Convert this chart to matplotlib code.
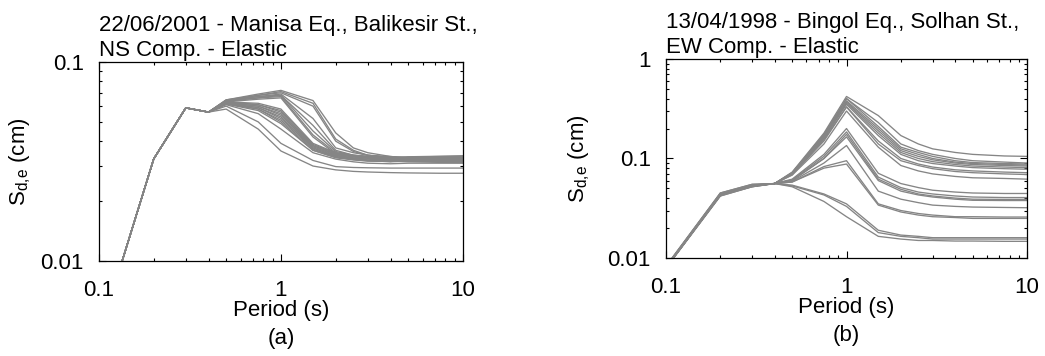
import matplotlib
matplotlib.use('Agg')
import matplotlib.pyplot as plt
from matplotlib.ticker import FixedLocator, FixedFormatter, LogLocator, NullFormatter

plt.rcParams['font.family'] = ['Liberation Sans', 'DejaVu Sans']
plt.rcParams['mathtext.default'] = 'regular'

# Periods (s)
periods = [0.1, 0.2, 0.3, 0.4, 0.5, 0.75, 1.0, 1.5, 2.0, 2.5, 3.0, 4.0, 5.0, 7.5, 10.0]

# (a) Manisa Eq., Balikesir St., NS - elastic displacement spectra (cm)
sd_a = [
    [0.0042, 0.0326, 0.0588, 0.056, 0.0645, 0.069, 0.072, 0.064, 0.044, 0.037, 0.035, 0.0335, 0.033, 0.0328, 0.0327],
    [0.0042, 0.0326, 0.0588, 0.056, 0.0645, 0.068, 0.071, 0.062, 0.041, 0.036, 0.034, 0.033, 0.0325, 0.0323, 0.0322],
    [0.0042, 0.0326, 0.0588, 0.056, 0.064, 0.068, 0.070, 0.060, 0.040, 0.0355, 0.034, 0.033, 0.0325, 0.032, 0.032],
    [0.0042, 0.0326, 0.0588, 0.056, 0.064, 0.067, 0.069, 0.052, 0.037, 0.035, 0.034, 0.0335, 0.033, 0.0332, 0.0333],
    [0.0042, 0.0326, 0.0588, 0.056, 0.064, 0.067, 0.068, 0.048, 0.036, 0.034, 0.0335, 0.033, 0.0333, 0.0335, 0.0336],
    [0.0042, 0.0326, 0.0588, 0.056, 0.0635, 0.066, 0.068, 0.045, 0.0355, 0.034, 0.0335, 0.0332, 0.033, 0.033, 0.033],
    [0.0042, 0.0326, 0.0588, 0.056, 0.0635, 0.066, 0.067, 0.043, 0.035, 0.0338, 0.033, 0.0325, 0.0322, 0.032, 0.032],
    [0.0042, 0.0326, 0.0588, 0.056, 0.063, 0.065, 0.066, 0.042, 0.0345, 0.0335, 0.033, 0.0322, 0.0318, 0.0316, 0.0315],
    [0.0042, 0.0326, 0.0588, 0.056, 0.063, 0.062, 0.058, 0.039, 0.035, 0.034, 0.0335, 0.033, 0.0334, 0.0336, 0.0338],
    [0.0042, 0.0326, 0.0588, 0.056, 0.063, 0.061, 0.057, 0.0385, 0.0348, 0.0338, 0.0333, 0.0328, 0.033, 0.0332, 0.0333],
    [0.0042, 0.0326, 0.0588, 0.056, 0.063, 0.061, 0.056, 0.038, 0.0345, 0.0335, 0.033, 0.0325, 0.0325, 0.0326, 0.0327],
    [0.0042, 0.0326, 0.0588, 0.056, 0.0625, 0.060, 0.055, 0.038, 0.0343, 0.0333, 0.0328, 0.0322, 0.032, 0.032, 0.032],
    [0.0042, 0.0326, 0.0588, 0.056, 0.0625, 0.060, 0.054, 0.0375, 0.034, 0.033, 0.0325, 0.032, 0.0318, 0.0316, 0.0315],
    [0.0042, 0.0326, 0.0588, 0.056, 0.062, 0.059, 0.053, 0.037, 0.0338, 0.0328, 0.0322, 0.0318, 0.0315, 0.0313, 0.0312],
    [0.0042, 0.0326, 0.0588, 0.056, 0.062, 0.059, 0.052, 0.037, 0.0335, 0.0325, 0.032, 0.0315, 0.0318, 0.032, 0.0322],
    [0.0042, 0.0326, 0.0588, 0.056, 0.062, 0.058, 0.051, 0.0365, 0.0333, 0.0323, 0.0318, 0.0316, 0.0322, 0.0327, 0.033],
    [0.0042, 0.0326, 0.0588, 0.056, 0.0615, 0.058, 0.050, 0.036, 0.033, 0.0322, 0.0318, 0.0318, 0.0325, 0.033, 0.0334],
    [0.0042, 0.0326, 0.0588, 0.056, 0.0615, 0.057, 0.049, 0.036, 0.0332, 0.0325, 0.032, 0.032, 0.0322, 0.0324, 0.0325],
    [0.0042, 0.0326, 0.0588, 0.056, 0.061, 0.055, 0.046, 0.035, 0.0325, 0.0315, 0.031, 0.0308, 0.031, 0.031, 0.031],
    [0.0042, 0.0326, 0.0588, 0.056, 0.060, 0.050, 0.039, 0.032, 0.0298, 0.0295, 0.0294, 0.0293, 0.0293, 0.0293, 0.0293],
    [0.0042, 0.0326, 0.0588, 0.056, 0.058, 0.046, 0.0357, 0.030, 0.0287, 0.0282, 0.028, 0.0278, 0.0277, 0.0276, 0.0276],
]

# (b) Bingol Eq., Solhan St., EW - elastic displacement spectra (cm)
sd_b = [
    [0.0083, 0.045, 0.055, 0.056, 0.073, 0.18, 0.42, 0.27, 0.17, 0.14, 0.125, 0.115, 0.11, 0.106, 0.105],
    [0.0082, 0.044, 0.054, 0.056, 0.072, 0.175, 0.40, 0.23, 0.14, 0.12, 0.11, 0.10, 0.095, 0.092, 0.09],
    [0.0081, 0.044, 0.054, 0.056, 0.072, 0.17, 0.40, 0.21, 0.13, 0.115, 0.105, 0.095, 0.091, 0.089, 0.088],
    [0.0082, 0.045, 0.055, 0.056, 0.071, 0.17, 0.38, 0.20, 0.125, 0.11, 0.10, 0.092, 0.089, 0.087, 0.086],
    [0.0081, 0.044, 0.053, 0.056, 0.071, 0.165, 0.37, 0.19, 0.12, 0.105, 0.097, 0.09, 0.087, 0.085, 0.084],
    [0.0080, 0.043, 0.053, 0.056, 0.070, 0.16, 0.36, 0.18, 0.115, 0.10, 0.093, 0.087, 0.084, 0.082, 0.081],
    [0.0081, 0.044, 0.054, 0.056, 0.070, 0.16, 0.35, 0.17, 0.11, 0.095, 0.089, 0.084, 0.081, 0.079, 0.078],
    [0.0080, 0.043, 0.053, 0.056, 0.069, 0.155, 0.33, 0.15, 0.10, 0.088, 0.082, 0.077, 0.075, 0.073, 0.072],
    [0.0080, 0.043, 0.052, 0.056, 0.069, 0.15, 0.33, 0.14, 0.095, 0.085, 0.079, 0.074, 0.072, 0.070, 0.069],
    [0.0079, 0.042, 0.052, 0.056, 0.068, 0.14, 0.30, 0.13, 0.085, 0.075, 0.07, 0.066, 0.064, 0.063, 0.062],
    [0.0081, 0.044, 0.054, 0.056, 0.062, 0.11, 0.20, 0.071, 0.056, 0.051, 0.048, 0.046, 0.045, 0.0445, 0.0445],
    [0.0080, 0.043, 0.053, 0.056, 0.061, 0.105, 0.185, 0.065, 0.051, 0.046, 0.044, 0.042, 0.041, 0.0405, 0.0405],
    [0.0080, 0.043, 0.053, 0.056, 0.060, 0.10, 0.175, 0.062, 0.049, 0.044, 0.042, 0.040, 0.039, 0.0388, 0.0388],
    [0.0080, 0.043, 0.053, 0.056, 0.060, 0.10, 0.165, 0.060, 0.047, 0.043, 0.041, 0.039, 0.038, 0.0378, 0.0378],
    [0.0079, 0.042, 0.052, 0.056, 0.059, 0.09, 0.135, 0.047, 0.039, 0.036, 0.034, 0.033, 0.0325, 0.0322, 0.032],
    [0.0080, 0.043, 0.053, 0.056, 0.058, 0.083, 0.095, 0.035, 0.030, 0.028, 0.027, 0.026, 0.026, 0.0258, 0.0258],
    [0.0080, 0.043, 0.053, 0.056, 0.058, 0.080, 0.088, 0.034, 0.029, 0.027, 0.026, 0.0255, 0.025, 0.025, 0.025],
    [0.0080, 0.043, 0.053, 0.056, 0.054, 0.044, 0.035, 0.019, 0.017, 0.0165, 0.016, 0.016, 0.016, 0.016, 0.016],
    [0.0080, 0.043, 0.053, 0.056, 0.053, 0.043, 0.033, 0.018, 0.0165, 0.016, 0.0155, 0.0155, 0.0155, 0.0155, 0.0155],
    [0.0080, 0.043, 0.053, 0.056, 0.052, 0.037, 0.026, 0.0165, 0.0155, 0.015, 0.015, 0.0148, 0.0148, 0.0147, 0.0147],
]

titles = ['22/06/2001 - Manisa Eq., Balikesir St.,\nNS Comp. - Elastic',
          '13/04/1998 - Bingol Eq., Solhan St.,\nEW Comp. - Elastic']
panel_tags = ['(a)', '(b)']
x_ticks = [0.1, 1, 10]
x_ticklabels = ['0.1', '1', '10']
y_ticks_a = [0.01, 0.1]
y_ticklabels_a = ['0.01', '0.1']
y_ticks_b = [0.01, 0.1, 1]
y_ticklabels_b = ['0.01', '0.1', '1']

fs = 16

fig = plt.figure(figsize=(10.45, 3.56), dpi=100)
ax_a = fig.add_axes([0.0947, 0.2669, 0.3483, 0.559])
ax_b = fig.add_axes([0.6373, 0.2753, 0.3455, 0.559])

setups = [
    (ax_a, sd_a, y_ticks_a, y_ticklabels_a, -0.18),
    (ax_b, sd_b, y_ticks_b, y_ticklabels_b, -0.205),
]

for i, (ax, curves, yt, ytl, ylab_x) in enumerate(setups):
    for row in curves:
        ax.plot(periods, row, color='#858585', lw=0.95)
    ax.set_xscale('log')
    ax.set_yscale('log')
    ax.set_xlim(0.1, 10)
    ax.set_ylim(yt[0], yt[-1])
    ax.xaxis.set_major_locator(FixedLocator(x_ticks))
    ax.xaxis.set_major_formatter(FixedFormatter(x_ticklabels))
    ax.yaxis.set_major_locator(FixedLocator(yt))
    ax.yaxis.set_major_formatter(FixedFormatter(ytl))
    ax.xaxis.set_minor_locator(LogLocator(base=10, subs=range(2, 10)))
    ax.yaxis.set_minor_locator(LogLocator(base=10, subs=range(2, 10)))
    ax.xaxis.set_minor_formatter(NullFormatter())
    ax.yaxis.set_minor_formatter(NullFormatter())
    ax.tick_params(which='both', direction='in', top=True, right=True, width=0.8)
    ax.tick_params(which='major', length=5)
    ax.tick_params(which='minor', length=2.5)
    ax.tick_params(axis='x', which='major', labelsize=fs, pad=14)
    ax.tick_params(axis='y', which='major', labelsize=fs, pad=11)
    for sp in ax.spines.values():
        sp.set_linewidth(0.9)
    ax.set_xlabel('Period (s)', fontsize=fs)
    ax.xaxis.set_label_coords(0.5, -0.195)
    ax.set_ylabel('S$_{d{,}e}$ (cm)', fontsize=fs)
    ax.yaxis.set_label_coords(ylab_x, 0.5)
    ax.text(0.0, 1.005, titles[i], transform=ax.transAxes, ha='left', va='bottom',
            fontsize=fs, linespacing=1.25)
    ax.text(0.5, -0.39, panel_tags[i], transform=ax.transAxes, ha='center', va='center',
            fontsize=fs)

fig.savefig('out.png', dpi=100)
